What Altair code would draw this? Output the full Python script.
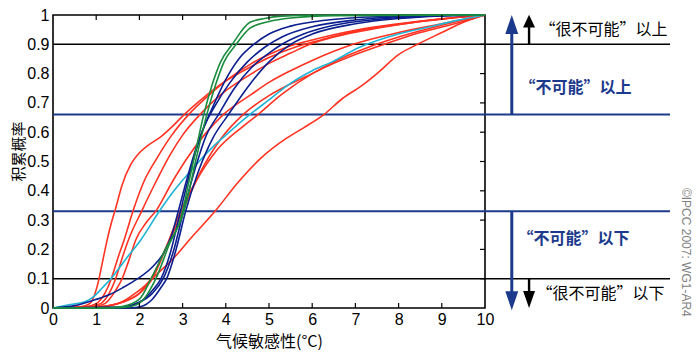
import altair as alt
import pandas as pd

# ---------------- data ----------------
X_TICKS = [0, 1, 2, 3, 4, 5, 6, 7, 8, 9, 10]
Y_TICKS = [0, 0.1, 0.2, 0.3, 0.4, 0.5, 0.6, 0.7, 0.8, 0.9, 1]
INNER_X = [1, 2, 3, 4, 5, 6, 7, 8, 9]
INNER_Y = [0.1, 0.2, 0.3, 0.4, 0.5, 0.6, 0.7, 0.8, 0.9]

# red curves
R1_X = [0, 0.6, 0.85, 0.95, 1.05, 1.15, 1.25, 1.35, 1.45, 1.6, 1.8, 2.0, 2.2, 2.5, 2.8, 3.0, 3.5, 4.0, 4.6, 5.0, 5.6, 6.2, 7, 8, 9, 10]
R1_Y = [0, 0.003, 0.015, 0.04, 0.09, 0.16, 0.23, 0.29, 0.34, 0.42, 0.49, 0.53, 0.555, 0.585, 0.625, 0.655, 0.72, 0.775, 0.825, 0.855, 0.89, 0.915, 0.945, 0.968, 0.986, 1]
R2_X = [0, 0.7, 1.0, 1.2, 1.35, 1.5, 1.65, 1.85, 2.1, 2.4, 2.75, 3.14, 3.6, 4.0, 4.6, 5.0, 5.5, 6, 7, 8, 9, 10]
R2_Y = [0, 0.003, 0.015, 0.05, 0.1, 0.17, 0.234, 0.33, 0.43, 0.51, 0.59, 0.66, 0.725, 0.775, 0.835, 0.865, 0.895, 0.915, 0.948, 0.97, 0.987, 1]
R3_X = [0, 0.8, 1.1, 1.3, 1.45, 1.6, 1.75, 2.05, 2.38, 2.7, 3.0, 3.4, 3.9, 4.6, 5.0, 5.5, 5.95, 6.5, 7.5, 8.5, 10]
R3_Y = [0, 0.003, 0.015, 0.05, 0.1, 0.17, 0.234, 0.33, 0.43, 0.52, 0.59, 0.66, 0.73, 0.8, 0.835, 0.87, 0.9, 0.925, 0.955, 0.978, 1]
R4_X = [0, 0.9, 1.2, 1.45, 1.6, 1.75, 1.92, 2.15, 2.4, 2.76, 3.1, 3.5, 3.94, 4.6, 5.0, 5.5, 6.0, 6.95, 8, 9, 10]
R4_Y = [0, 0.003, 0.015, 0.06, 0.1, 0.16, 0.234, 0.29, 0.335, 0.43, 0.51, 0.59, 0.66, 0.73, 0.77, 0.81, 0.845, 0.9, 0.94, 0.97, 1]
R5_X = [0, 1.0, 1.5, 1.9, 2.27, 2.6, 3.0, 3.4, 3.9, 4.4, 5.0, 5.5, 6.0, 6.5, 7.0, 7.67, 8.5, 9.3, 10]
R5_Y = [0, 0.003, 0.015, 0.05, 0.1, 0.2, 0.33, 0.46, 0.58, 0.66, 0.725, 0.765, 0.8, 0.835, 0.865, 0.9, 0.94, 0.97, 1]
R6_X = [0, 1.0, 1.6, 2.0, 2.3, 2.6, 2.95, 3.3, 3.8, 4.4, 4.7, 5.3, 6.0, 6.5, 7.3, 8.0, 9.0, 10]
R6_Y = [0, 0.003, 0.02, 0.05, 0.1, 0.2, 0.33, 0.43, 0.54, 0.62, 0.655, 0.73, 0.8, 0.84, 0.89, 0.925, 0.965, 1]
R7_X = [0, 1.0, 1.5, 2.0, 2.3, 2.76, 3.2, 3.75, 4.29, 4.8, 5.39, 5.8, 6.27, 6.7, 7.14, 7.5, 8.0, 8.44, 9.0, 9.5, 10]
R7_Y = [0, 0.003, 0.015, 0.05, 0.1, 0.165, 0.24, 0.33, 0.43, 0.51, 0.578, 0.615, 0.66, 0.715, 0.758, 0.8, 0.865, 0.9, 0.94, 0.975, 1]

# cyan curve
C1_X = [0, 0.4, 0.75, 0.95, 1.15, 1.34, 1.7, 2.04, 2.46, 2.8, 3.2, 3.7, 4.0, 4.51, 5.0, 5.38, 6.0, 6.46, 7.07, 8.0, 8.67, 9.3, 10]
C1_Y = [0, 0.012, 0.022, 0.04, 0.07, 0.1, 0.17, 0.234, 0.33, 0.4, 0.47, 0.55, 0.59, 0.655, 0.71, 0.755, 0.81, 0.84, 0.888, 0.935, 0.958, 0.98, 1]

# dark blue curves
B1_X = [0, 0.5, 0.97, 1.3, 1.6, 1.96, 2.3, 2.57, 2.75, 2.9, 3.1, 3.3, 3.5, 3.75, 4.1, 4.5, 4.9, 5.3, 6.0, 7.0, 8.0, 10]
B1_Y = [0, 0.008, 0.028, 0.045, 0.068, 0.1, 0.14, 0.19, 0.25, 0.33, 0.44, 0.54, 0.62, 0.69, 0.77, 0.84, 0.89, 0.925, 0.96, 0.983, 0.994, 1]
B2_X = [0, 1.5, 2.0, 2.3, 2.5, 2.7, 2.95, 3.2, 3.45, 3.71, 4.0, 4.3, 4.65, 5.0, 5.5, 6.3, 7.5, 10]
B2_Y = [0, 0.002, 0.02, 0.06, 0.1, 0.18, 0.33, 0.48, 0.6, 0.69, 0.78, 0.85, 0.9, 0.935, 0.962, 0.982, 0.994, 1]
B3_X = [0, 1.5, 2.0, 2.3, 2.55, 2.8, 3.02, 3.3, 3.55, 3.83, 4.2, 4.59, 5.0, 5.3, 5.8, 6.5, 7.5, 8.5, 10]
B3_Y = [0, 0.002, 0.02, 0.05, 0.1, 0.2, 0.33, 0.48, 0.59, 0.66, 0.75, 0.82, 0.87, 0.9, 0.935, 0.965, 0.985, 0.995, 1]
B4_X = [0, 1.8, 2.04, 2.3, 2.5, 2.63, 2.85, 3.07, 3.35, 3.7, 4.06, 4.59, 5.0, 5.5, 6.0, 7.0, 8.0, 9.0, 10]
B4_Y = [0, 0, 0.005, 0.03, 0.07, 0.1, 0.2, 0.33, 0.46, 0.58, 0.66, 0.77, 0.84, 0.9, 0.935, 0.97, 0.988, 0.997, 1]

# green curves
G1_X = [0, 1.2, 1.6, 2.0, 2.27, 2.6, 3.0, 3.1, 3.25, 3.49, 3.68, 3.88, 4.15, 4.56, 4.9, 5.3, 6.0, 10]
G1_Y = [0, 0, 0.005, 0.03, 0.1, 0.2, 0.33, 0.4, 0.5, 0.66, 0.76, 0.84, 0.9, 0.975, 0.988, 0.996, 0.999, 1]
G2_X = [0, 1.4, 1.8, 2.1, 2.38, 2.7, 3.03, 3.15, 3.3, 3.56, 3.76, 3.96, 4.24, 4.56, 5.0, 5.5, 6.5, 10]
G2_Y = [0, 0, 0.005, 0.03, 0.1, 0.22, 0.33, 0.4, 0.5, 0.66, 0.76, 0.84, 0.9, 0.955, 0.978, 0.99, 0.998, 1]

# threshold lines
LEVELS = [0.9, 0.66, 0.33, 0.1]
LEVEL_KIND = ["black", "blue", "blue", "black"]

# arrows (x in climate-sensitivity units, beyond the axis)
ARROW_X = [10.62, 11.02, 10.62, 11.02]
ARROW_FROM = [0.66, 0.9, 0.33, 0.1]
ARROW_TO = [0.95, 0.97, 0.045, 0.045]
ARROW_HEAD_Y = [0.968, 0.979, 0.0245, 0.0286]
ARROW_KIND = ["blue", "black", "blue", "black"]
ARROW_DIR = ["up", "up", "down", "down"]

# annotation texts
ANN_TEXT = ["“很不可能”以上", "“不可能”以上", "“不可能”以下", "“很不可能”以下"]
ANN_X = [11.26, 10.8, 10.75, 11.19]
ANN_Y = [0.95, 0.751, 0.234, 0.048]
ANN_KIND = ["black", "blue", "blue", "black"]

COPYRIGHT = "©IPCC 2007: WG1-AR4"

# ---------------- styling ----------------
RED = "#ff3322"
NAVY = "#0b1f8f"
GREEN = "#1a8c3e"
CYAN = "#1fb4d6"
LINEBLUE = "#1c3a8c"
KIND_COLOR = {"black": "#000000", "blue": LINEBLUE}

W, H = 432, 293
FONT_CJK = "Noto Sans CJK SC"
FONT_LAT = "Liberation Sans"

curves = [
    ("r1", "red", R1_X, R1_Y), ("r2", "red", R2_X, R2_Y), ("r3", "red", R3_X, R3_Y),
    ("r4", "red", R4_X, R4_Y), ("r5", "red", R5_X, R5_Y), ("r6", "red", R6_X, R6_Y),
    ("r7", "red", R7_X, R7_Y), ("c1", "cyan", C1_X, C1_Y),
    ("b1", "navy", B1_X, B1_Y), ("b2", "navy", B2_X, B2_Y), ("b3", "navy", B3_X, B3_Y),
    ("b4", "navy", B4_X, B4_Y), ("g1", "green", G1_X, G1_Y), ("g2", "green", G2_X, G2_Y),
]
rows = []
for name, grp, xs, ys in curves:
    for x, y in zip(xs, ys):
        rows.append({"series": name, "grp": grp, "x": x, "y": y})
df = pd.DataFrame(rows)

xs_ = alt.Scale(domain=[0, 10], nice=False, zero=False)
ys_ = alt.Scale(domain=[0, 1], nice=False, zero=False)

AX_X = alt.Axis(values=X_TICKS, title="气候敏感性(°C)", grid=False, ticks=False,
                tickSize=0, domain=False, labelFont=FONT_LAT, labelFontSize=16,
                labelPadding=3, labelColor="black", titleFont=FONT_CJK,
                titleFontSize=16, titleFontWeight="normal", titleColor="black",
                titleY=38, titleBaseline="alphabetic", labelFlush=False)
AX_Y = alt.Axis(values=Y_TICKS, title="积累概率", grid=False, ticks=False,
                tickSize=0, domain=False, labelFont=FONT_LAT, labelFontSize=16,
                labelPadding=4, labelColor="black",
                labelExpr="datum.value == 0 || datum.value == 1 ? format(datum.value, 'd') : format(datum.value, '.1f')",
                titleFont=FONT_CJK, titleFontSize=15, titleFontWeight="normal",
                titleColor="black", titleX=-27, titleY=136, labelFlush=False)


def X(field):
    return alt.X(field, scale=xs_, axis=AX_X, title="气候敏感性(°C)")


def Y(field):
    return alt.Y(field, scale=ys_, axis=AX_Y, title="积累概率")


hl = pd.DataFrame({"level": LEVELS,
                   "c": [KIND_COLOR[k] for k in LEVEL_KIND],
                   "w": [1.4 if k == "black" else 2.0 for k in LEVEL_KIND]})
hlines = alt.Chart(hl).mark_rule().encode(
    y=Y("level:Q"),
    x=alt.value(0), x2=alt.value(617),
    color=alt.Color("c:N", scale=None),
    strokeWidth=alt.StrokeWidth("w:Q", scale=None),
)

lines = alt.Chart(df).mark_line(interpolate="monotone", strokeWidth=1.6).encode(
    x=X("x:Q"),
    y=Y("y:Q"),
    color=alt.Color("grp:N", scale=alt.Scale(domain=["red", "cyan", "navy", "green"],
                                             range=[RED, CYAN, NAVY, GREEN]), legend=None),
    detail="series:N",
    order=alt.Order("x:Q"),
)

tx = pd.DataFrame({"t": INNER_X, "lo": [0.0] * len(INNER_X), "lo2": [0.017] * len(INNER_X),
                   "hi": [1.0] * len(INNER_X), "hi2": [0.983] * len(INNER_X)})
ty = pd.DataFrame({"t": INNER_Y, "r": [10.0] * len(INNER_Y), "r2": [9.885] * len(INNER_Y)})
tick_bottom = alt.Chart(tx).mark_rule(color="black", strokeWidth=1.2).encode(
    x=X("t:Q"), y=Y("lo:Q"), y2="lo2:Q")
tick_top = alt.Chart(tx).mark_rule(color="black", strokeWidth=1.2).encode(
    x=X("t:Q"), y=Y("hi:Q"), y2="hi2:Q")
tick_right = alt.Chart(ty).mark_rule(color="black", strokeWidth=1.2).encode(
    y=Y("t:Q"), x=X("r:Q"), x2="r2:Q")

ar = pd.DataFrame({
    "x": ARROW_X, "y": ARROW_FROM, "y2": ARROW_TO, "hy": ARROW_HEAD_Y,
    "c": [KIND_COLOR[k] for k in ARROW_KIND],
    "w": [3.0 if k == "blue" else 2.4 for k in ARROW_KIND],
    "shape": [
        ("M0,-1L0.68,1L-0.68,1Z" if d == "up" else "M0,1L0.68,-1L-0.68,-1Z") if k == "blue"
        else ("M0,-1L0.95,1L-0.95,1Z" if d == "up" else "M0,1L0.7,-1L-0.7,-1Z")
        for k, d in zip(ARROW_KIND, ARROW_DIR)],
    "s": [361 if k == "blue" else (160 if d == "up" else 289) for k, d in zip(ARROW_KIND, ARROW_DIR)],
})
shafts = alt.Chart(ar).mark_rule().encode(
    x=X("x:Q"),
    y=Y("y:Q"), y2="y2:Q",
    color=alt.Color("c:N", scale=None),
    strokeWidth=alt.StrokeWidth("w:Q", scale=None),
)
heads = alt.Chart(ar).mark_point(filled=True, opacity=1, strokeWidth=0).encode(
    x=X("x:Q"),
    y=Y("hy:Q"),
    color=alt.Color("c:N", scale=None),
    shape=alt.Shape("shape:N", scale=None),
    size=alt.Size("s:Q", scale=None),
)

an = pd.DataFrame({"x": ANN_X, "y": ANN_Y, "text": ANN_TEXT,
                   "c": [KIND_COLOR[k] for k in ANN_KIND]})
texts_black = alt.Chart(an[an["c"] == "#000000"]).mark_text(
    align="left", baseline="middle", font=FONT_CJK, fontSize=16, color="#000000").encode(
    x=X("x:Q"), y=Y("y:Q"), text="text:N")
texts_blue = alt.Chart(an[an["c"] != "#000000"]).mark_text(
    align="left", baseline="middle", font=FONT_CJK, fontSize=16, fontWeight=600,
    color=LINEBLUE).encode(
    x=X("x:Q"), y=Y("y:Q"), text="text:N")

cp = pd.DataFrame({"x": [14.66], "y": [0.19], "text": [COPYRIGHT]})
copy_txt = alt.Chart(cp).mark_text(angle=90, align="center", baseline="middle",
                                   font=FONT_LAT, fontSize=12, color="#808080").encode(
    x=X("x:Q"), y=Y("y:Q"), text="text:N")

chart = alt.layer(
    hlines, lines, tick_bottom, tick_top, tick_right, shafts, heads,
    texts_black, texts_blue, copy_txt
).properties(
    width=W, height=H,
    padding={"left": 45, "top": 7, "right": 207, "bottom": 42},
    autosize=alt.AutoSizeParams(type="none"),
    background="white",
).configure_view(stroke="black", strokeWidth=1.6)

chart.save("out.html", embed_options={"renderer": "svg", "actions": False})
